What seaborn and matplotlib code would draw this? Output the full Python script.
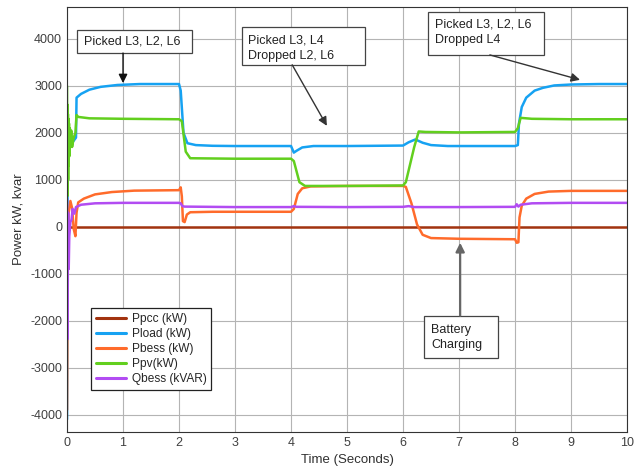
import matplotlib
matplotlib.use("Agg")
import matplotlib.pyplot as plt
from matplotlib.patches import Rectangle
import seaborn as sns

# values (time in s, power in kW / kvar)
ppcc_t = [0, 0.2, 10]
ppcc_v = [0, 0, 0]

pload_t = [0, 0.01, 0.03, 0.1, 0.16, 0.17, 0.25, 0.4, 0.6, 0.9, 1.3, 2.0, 2.03, 2.08, 2.15,
           2.3, 2.6, 3.0, 4.0, 4.05, 4.1, 4.2, 4.4, 5.0, 6.0, 6.1, 6.22, 6.35, 6.5, 6.8,
           8.0, 8.05, 8.07, 8.12, 8.2, 8.35, 8.5, 8.7, 9.0, 9.5, 10]
pload_v = [-4100, 1500, 2000, 1800, 1900, 2750, 2830, 2920, 2980, 3020, 3040, 3040, 2900, 2000, 1780,
           1740, 1725, 1720, 1720, 1580, 1620, 1690, 1720, 1720, 1730, 1800, 1860, 1790, 1740, 1720,
           1720, 1740, 2200, 2550, 2750, 2900, 2960, 3010, 3030, 3040, 3040]

pbess_t = [0, 0.01, 0.03, 0.06, 0.09, 0.12, 0.15, 0.17, 0.2, 0.3, 0.5, 0.8, 1.2, 2.0, 2.03,
           2.05, 2.07, 2.1, 2.14, 2.2, 2.6, 3.5, 4.0, 4.05, 4.12, 4.2, 4.35, 5.0, 6.0, 6.05,
           6.15, 6.25, 6.35, 6.5, 7.0, 8.0, 8.03, 8.06, 8.08, 8.12, 8.2, 8.35, 8.6, 9.0, 10]
pbess_v = [-3900, -1000, 300, 550, 400, -50, -200, 300, 520, 600, 690, 740, 770, 780, 840,
           650, 120, 100, 260, 310, 320, 320, 320, 380, 700, 820, 860, 870, 870, 850,
           500, 50, -170, -240, -255, -265, -340, -330, 200, 450, 600, 700, 750, 765, 765]

ppv_t = [0, 0.004, 0.008, 0.012, 0.016, 0.02, 0.025, 0.03, 0.035, 0.04, 0.05, 0.06, 0.075, 0.09,
         0.12, 0.15, 0.17, 0.2, 0.4, 1.0, 2.0,
         2.05, 2.12, 2.2, 3.0, 4.0, 4.05, 4.15, 4.25, 5.0, 6.0, 6.05, 6.12, 6.2, 6.28, 6.4,
         7.0, 8.0, 8.05, 8.1, 8.3, 9.0, 10]
ppv_v = [3000, 650, 2600, 700, 2400, 1000, 2300, 1300, 2200, 1500, 2100, 1700, 2050, 1700,
         1900, 2000, 2380, 2340, 2310, 2300, 2290,
         2250, 1600, 1460, 1450, 1450, 1400, 950, 870, 870, 880, 950, 1300, 1700, 2030, 2020,
         2010, 2020, 2100, 2320, 2300, 2290, 2290]

qbess_t = [0, 0.004, 0.008, 0.012, 0.02, 0.03, 0.04, 0.06, 0.08, 0.1, 0.13, 0.16, 0.25, 0.5,
           1.0, 2.0, 2.03, 2.06, 2.1, 3.0, 4.0, 4.05, 4.1, 5.0, 6.0, 6.1, 6.2, 7.0, 8.0, 8.03,
           8.06, 8.1, 8.3, 9.0, 10]
qbess_v = [600, -2400, 200, -1500, 300, -900, -200, 100, 150, 380, 280, 420, 470, 500,
           510, 510, 500, 440, 430, 420, 420, 440, 425, 420, 425, 440, 420, 420, 425, 480,
           430, 470, 500, 510, 510]

series = [
    ("Ppcc (kW)", ppcc_t, ppcc_v, "#A2330F"),
    ("Pload (kW)", pload_t, pload_v, "#16A2F2"),
    ("Pbess (kW)", pbess_t, pbess_v, "#FF6B2B"),
    ("Ppv(kW)", ppv_t, ppv_v, "#62CF1E"),
    ("Qbess (kVAR)", qbess_t, qbess_v, "#B24CF2"),
]

sns.set_style("whitegrid")
plt.rcParams['font.family'] = ['Liberation Sans', 'DejaVu Sans']
plt.rcParams['axes.unicode_minus'] = False

fig = plt.figure(figsize=(6.42, 4.75), dpi=100)
ax = fig.add_axes([0.1044, 0.0905, 0.8723, 0.8947])

for name, t, v, col in series:
    sns.lineplot(x=t, y=v, ax=ax, color=col, lw=1.8, label=name,
                 estimator=None, sort=False)

ax.set_xlim(0, 10)
ax.set_ylim(-4370, 4680)
ax.set_xticks(range(0, 11))
ax.set_yticks(range(-4000, 4001, 1000))
ax.grid(True, color="#b4b4b4", lw=0.8)
for s in ax.spines.values():
    s.set_color("#333333")
    s.set_linewidth(0.8)
ax.tick_params(labelsize=9, colors="#404040", direction="in", length=3)
ax.set_xlabel("Time (Seconds)", fontsize=9.5, color="#303030")
ax.set_ylabel("Power kW, kvar", fontsize=9.5, color="#303030", labelpad=4)

leg = ax.legend(loc="lower left", bbox_to_anchor=(0.043, 0.099), fontsize=8.6,
                frameon=True, fancybox=False, handlelength=2.5, borderpad=0.4,
                labelspacing=0.25, handletextpad=0.5, borderaxespad=0)
leg.get_frame().set_edgecolor("#222222")
leg.get_frame().set_linewidth(0.9)
leg.get_frame().set_alpha(1)
for h in leg.get_lines():
    h.set_linewidth(2.2)

# annotation boxes: (x0, x1, y0, y1) in data units, text left / centre
notes = [
    ((0.18, 2.23, 3700, 4190), (0.30, 3950), "Picked L3, L2, L6"),
    ((3.12, 5.32, 3450, 4255), (3.23, 3800), "Picked L3, L4\nDropped L2, L6"),
    ((6.45, 8.52, 3660, 4575), (6.57, 4140), "Picked L3, L2, L6\nDropped L4"),
    ((6.38, 7.70, -2790, -1895), (6.50, -2350), "Battery\nCharging"),
]
for (x0, x1, y0, y1), (tx, ty), txt in notes:
    ax.add_patch(Rectangle((x0, y0), x1 - x0, y1 - y0, fc="white", ec="#444444",
                           lw=0.9, zorder=5))
    ax.text(tx, ty, txt, fontsize=9, va="center", ha="left", linespacing=1.35,
            color="#222222", zorder=6)

arrows = [
    ((1.0, 3700), (1.0, 3060), "#111111", 1.0),
    ((4.02, 3450), (4.64, 2150), "#333333", 1.0),
    ((7.55, 3660), (9.16, 3130), "#333333", 1.0),
    ((7.02, -1895), (7.02, -340), "#666666", 1.6),
]
for start, end, col, w in arrows:
    ax.annotate("", xy=end, xytext=start,
                arrowprops=dict(arrowstyle="-|>", color=col, lw=w, mutation_scale=13,
                                shrinkA=0, shrinkB=0), zorder=6)

fig.savefig("out.png", dpi=100)
